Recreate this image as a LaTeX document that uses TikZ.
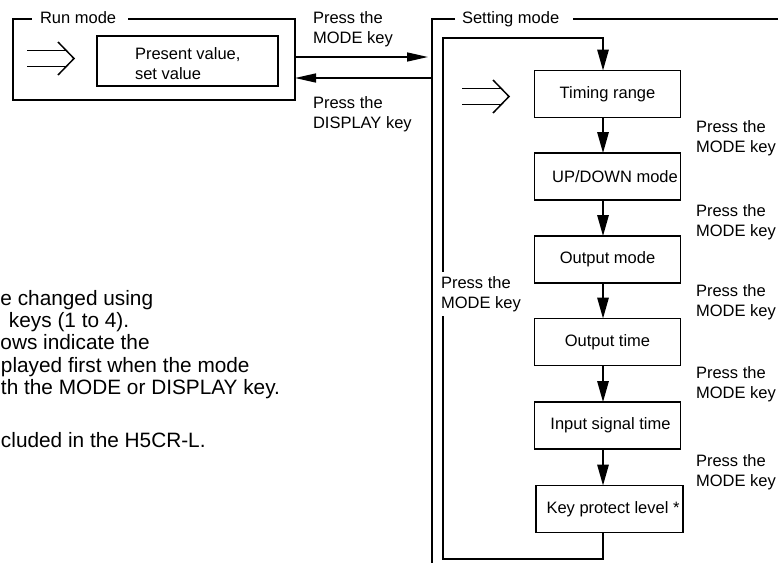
\documentclass[tikz,border=0pt]{standalone}
\usepackage{fontspec}
\setmainfont{Liberation Sans}
\usetikzlibrary{arrows.meta}
\begin{document}
\begin{tikzpicture}[x=1pt,y=-1pt,
  every node/.style={inner sep=0pt, outer sep=0pt},
  lbl/.style={font=\fontsize{16.5}{20.5}\selectfont, align=left, anchor=west},
  note/.style={font=\fontsize{20.8}{22}\selectfont, anchor=base west},
  ln/.style={line width=1.5pt},
  frame/.style={draw, line width=1.5pt},
  stepbox/.style={draw, line width=1.5pt, minimum width=146pt, minimum height=47pt, font=\fontsize{16.5}{20.5}\selectfont},
  harr/.style={line width=1.5pt, -{Triangle[length=21pt,width=9pt]}},
  varr/.style={line width=1.5pt, -{Triangle[length=21pt,width=11.5pt]}},
  dblarr/.pic={\draw[line width=1.5pt] (-47,-8) -- (-8,-8) (-47,8) -- (-8,8);
                \draw[line width=1.5pt, line join=miter] (-16,-16.5) -- (0,0) -- (-16,16.5);}]
\useasboundingbox (0,0) rectangle (778,563);
\fill[white] (0,0) rectangle (778,563);

% Run mode
\node[frame, minimum width=282pt, minimum height=81pt] (run) at (154,59.5) {};
\node[lbl, fill=white, inner xsep=8pt, inner ysep=3pt, anchor=base west] (runlbl) at (32,23.5) {Run mode\hspace*{4pt}};
\node[frame, minimum width=181pt, minimum height=50pt] (pv) at (187.5,61) {};
\node[lbl] (pvt) at (135,63.5) {Present value,\\set value};
\pic at (74,58.5) {dblarr};

% Setting mode frame
\draw[ln] (455,19) -- (432,19) -- (432,563);
\draw[ln] (573,19) -- (778,19);
\node[lbl, anchor=base west] (setlbl) at (462,23.5) {Setting mode};
\pic at (509,96.5) {dblarr};

% transitions between modes
\coordinate (mA) at (428,57);
\coordinate (dA) at (432,78);
\draw[harr] (run.east |- mA) -- (mA);
\draw[harr] (dA) -- (run.east |- dA);
\node[lbl] (l1) at (313,29) {Press the\\MODE key};
\node[lbl] (l2) at (313,114) {Press the\\DISPLAY key};

% steps
\coordinate (col) at (603,0);
\node[stepbox] (tr) at (607.5,94) {Timing range};
\node[stepbox] (ud) at (607.5,176.5) {\hspace*{15pt}UP/DOWN mode};
\node[stepbox] (om) at (607.5,259.5) {Output mode};
\node[stepbox] (ot) at (607.5,342) {Output time};
\node[stepbox] (is) at (607.5,425.5) {\hspace*{6pt}Input signal time};
\node[stepbox, minimum width=147pt] (kp) at (609.5,509) {\hspace*{7pt}Key protect level *};

\draw[varr] (tr.south -| col) -- (ud.north -| col);
\draw[varr] (ud.south -| col) -- (om.north -| col);
\draw[varr] (om.south -| col) -- (ot.north -| col);
\draw[varr] (ot.south -| col) -- (is.north -| col);
\draw[varr] (is.south -| col) -- (kp.north -| col);

\coordinate (lt) at (443,38);
\coordinate (lb) at (443,559);
\draw[varr] (kp.south -| col) |- (lb) -- (lt) -| (tr.north -| col);
\node[lbl, fill=white, inner ysep=4pt] (ll) at (441,294) {Press the\\MODE key};

\node[lbl] (r1) at (696,138) {Press the\\MODE key};
\node[lbl] (r2) at (696,222) {Press the\\MODE key};
\node[lbl] (r3) at (696,302) {Press the\\MODE key};
\node[lbl] (r4) at (696,384) {Press the\\MODE key};
\node[lbl] (r5) at (696,472) {Press the\\MODE key};

% notes
\node[note] (n1) at (0.5,305) {e changed using};
\node[note] (n2) at (9,327) {keys (1 to 4).};
\node[note] (n3) at (0.5,349) {ows indicate the};
\node[note] (n4) at (1,372) {played first when the mode};
\node[note] (n5) at (1,394) {th the MODE or DISPLAY key.};
\node[note] (n6) at (1,447) {cluded in the H5CR-L.};
\end{tikzpicture}
\end{document}
